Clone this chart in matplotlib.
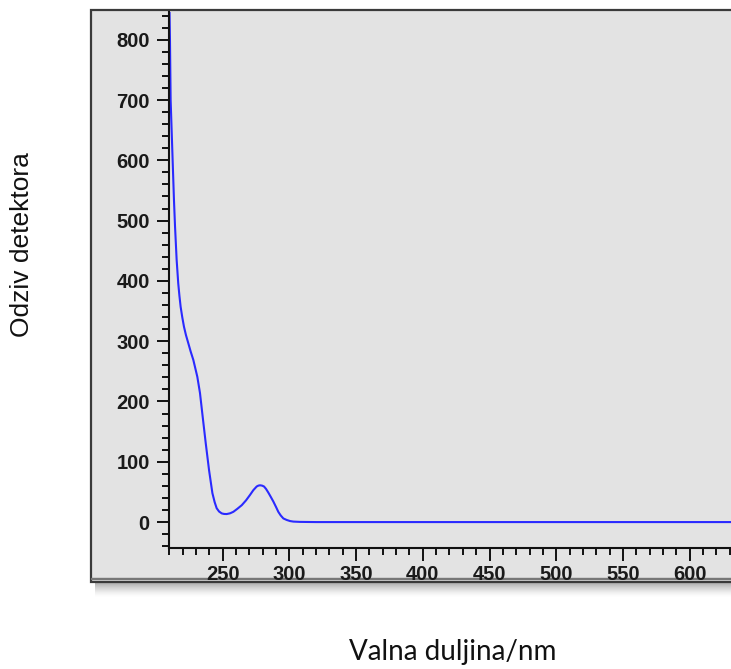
import matplotlib
matplotlib.use("Agg")
import matplotlib.pyplot as plt
from matplotlib.patches import Rectangle
from matplotlib.ticker import MultipleLocator

# spektar ocitan sa slike
valna_duljina = [210, 210.5, 211, 212.5, 213.5, 214.3, 215.5, 216.7, 217.6, 218.5, 219.7,
                 221, 222.5, 224.2, 226, 228, 231, 233, 235, 237.3, 239.8, 242.3, 244,
                 245.5, 247.3, 249.3, 251, 253, 255.5, 258, 261, 264.3, 267.5, 270.5,
                 273, 275.5, 276.8, 278, 279.5, 281, 282.5, 284.2, 286, 288, 290,
                 291.7, 293.5, 295.5, 298, 300.5, 303, 308, 320, 400, 500, 631]
odziv = [870, 800, 700, 600, 534, 490, 435, 396, 375, 357, 340,
         324, 310, 297, 283, 269, 241, 214, 175, 131, 86, 48, 33,
         23, 17.5, 14.4, 13.5, 13.3, 14.5, 17, 22, 28, 36, 45,
         53, 59, 60.5, 61, 60.5, 59, 55, 49, 42, 34, 25,
         17, 11, 6, 3.5, 1.7, 0.8, 0.3, 0, 0, 0, 0]

x_ticks = [250, 300, 350, 400, 450, 500, 550, 600]
y_ticks = [0, 100, 200, 300, 400, 500, 600, 700, 800]

W, H = 731, 669
fig = plt.figure(figsize=(W / 100, H / 100), dpi=100)
fig.patch.set_facecolor("white")

# sjena ispod panela
for i in range(14):
    a = 0.45 * (1 - i / 14) ** 1.5
    fig.add_artist(Rectangle((95 / W, (H - 584 - i) / H), (W - 95) / W, 1 / H,
                             transform=fig.transFigure, facecolor="#555555",
                             edgecolor="none", alpha=a, zorder=0))

# sivi panel
fig.add_artist(Rectangle((90.5 / W, (H - 582) / H), (W + 10 - 90.5) / W, (582 - 10) / H,
                         transform=fig.transFigure, facecolor="#e3e3e3",
                         edgecolor="#3a3a3a", linewidth=1.6, zorder=0))
fig.add_artist(Rectangle((90.5 / W, (H - 579) / H), (W + 10 - 90.5) / W, 0.001,
                         transform=fig.transFigure, facecolor="none",
                         edgecolor="#777777", linewidth=1.0, zorder=0))

ax = fig.add_axes([169.3 / W, (H - 548) / H, (W - 169.3) / W, (548 - 12) / H])
ax.set_facecolor("none")
ax.plot(valna_duljina, odziv, color="#2a2aff", linewidth=1.5, clip_on=True)

ax.set_xlim(210, 631)
ax.set_ylim(-43, 846)
ax.set_xticks(x_ticks)
ax.set_yticks(y_ticks)
ax.xaxis.set_minor_locator(MultipleLocator(10))
ax.yaxis.set_minor_locator(MultipleLocator(20))

for s in ["top", "right"]:
    ax.spines[s].set_visible(False)
for s in ["left", "bottom"]:
    ax.spines[s].set_linewidth(1.5)
    ax.spines[s].set_color("#111111")

ax.tick_params(which="major", direction="out", length=9, width=1.4, color="#111111",
               labelsize=14.5, labelcolor="#1a1a1a")
ax.tick_params(axis="y", which="major", pad=5)
ax.tick_params(axis="x", which="major", pad=3)
ax.tick_params(which="minor", direction="out", length=5, width=1.4, color="#111111")
for lab in ax.get_xticklabels() + ax.get_yticklabels():
    lab.set_family("Liberation Sans")
    lab.set_fontweight("bold")

fig.text(22 / W, 1 - 245 / H, "Odziv detektora", rotation=90, ha="center", va="center",
         fontsize=19, family="Liberation Sans", color="#111111")
fig.text(453 / W, 1 - 652 / H, "Valna duljina/nm", ha="center", va="center",
         fontsize=20, family="Lato", color="#111111")

fig.savefig("out.png", dpi=100)
